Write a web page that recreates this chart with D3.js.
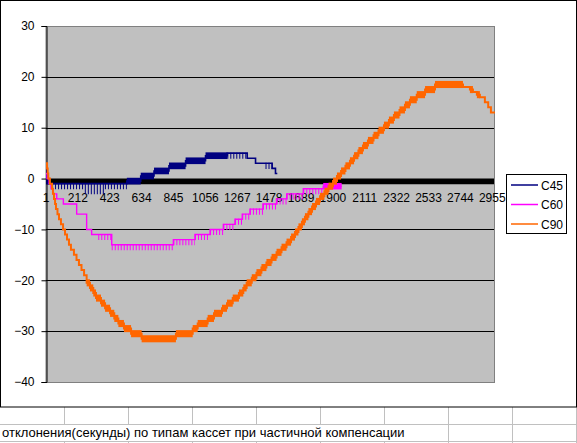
<!DOCTYPE html>
<html><head><meta charset="utf-8">
<script src="https://cdn.jsdelivr.net/npm/d3@7"></script>
<style>body{margin:0;background:#fff;}svg{display:block;font-family:Arial,"Liberation Sans",sans-serif;}</style>
</head><body><svg id="c" width="577" height="443"></svg>
<script>
// ---------- data ----------
const yTicks = [30, 20, 10, 0, -10, -20, -30, -40];
const xTicks = [1, 212, 423, 634, 845, 1056, 1267, 1478, 1689, 1900, 2111, 2322, 2533, 2744, 2955];
const nCategories = 2973;
const seriesNames = ["C45", "C60", "C90"];
const seriesColors = ["#000080", "#FF00FF", "#FF6600"];
const caption = "отклонения(секунды) по типам кассет при частичной компенсации";

// step segments: start category, low value, high value, kind (s = steady, b = dense jitter, c = sparse jitter)
const c45X  = [1, 8, 41, 258, 391, 536, 628, 716, 815, 925, 1057, 1201, 1333, 1388, 1454, 1498, 1520];
const c45Lo = [0, -1, -2, -3, -2, -1, 0, 1, 2, 3, 4, 4, 4, 3, 2, 2, 1];
const c45Hi = [2, -1, -1, -1, -1, 0, 1, 2, 3, 4, 5, 5, 4, 3, 3, 2, 1];
const c45Kind = ["b","s","c","c","c","b","b","b","b","b","b","c","s","s","c","s","s"];
const c45End = 1532;

const c60X  = [1, 8, 21, 34, 49, 72, 116, 204, 270, 303, 347, 436, 844, 987, 1087, 1175, 1252, 1300, 1351, 1437, 1527, 1594, 1704, 1836];
const c60Lo = [1, 0, -1, -2, -3, -4, -5, -7, -10, -11, -12, -14, -13, -12, -11, -10, -9, -8, -7, -6, -5, -4, -3, -2];
const c60Hi = [1, 0, -1, -2, -3, -4, -5, -7, -10, -11, -11, -13, -12, -11, -10, -9, -8, -7, -6, -5, -4, -3, -2, -1];
const c60Kind = ["s","s","s","s","s","s","s","s","s","s","c","c","c","c","c","c","c","c","c","c","c","c","c","b"];
const c60End = 1958;

const c90X = [1, 8, 12, 16, 27, 41, 47, 54, 61, 67, 77, 87, 100, 114, 127, 140, 153, 166, 186, 203, 219, 236, 253,
  270, 292, 314, 332, 365, 392, 425, 453, 480, 517, 564, 634, 861, 972, 1005, 1071, 1113, 1166, 1199, 1237, 1278,
  1307, 1329, 1363, 1394, 1427, 1460, 1494, 1527, 1560, 1593, 1623, 1649, 1672, 1695, 1715, 1738, 1762, 1788,
  1815, 1844, 1871, 1901, 1927, 1954, 1983, 2013, 2040, 2069, 2099, 2132, 2169, 2202, 2238, 2271, 2304, 2341,
  2377, 2410, 2455, 2510, 2576, 2761, 2807, 2827, 2853, 2873, 2906, 2928, 2946];
const c90Lo = [3, 2, 1, 0, -1, -2, -3, -4, -5, -6, -7, -8, -9, -10, -11, -12, -13, -14, -15, -16, -17, -18, -19,
  -21, -22, -23, -24, -25, -26, -27, -28, -29, -30, -31, -32, -31, -30, -29, -28, -27, -26, -25, -24, -23,
  -22, -21, -20, -19, -18, -17, -16, -15, -14, -13, -12, -11, -10, -9, -8, -7, -6, -5,
  -4, -3, -2, -1, 0, 1, 2, 3, 4, 5, 6, 7, 8, 9, 10, 11, 12, 13,
  14, 15, 16, 17, 18, 18, 17, 17, 16, 16, 15, 14, 13];
const c90Hi = [3, 2, 1, 0, -1, -2, -3, -4, -5, -6, -7, -8, -9, -10, -11, -12, -13, -14, -15, -16, -17, -18, -19,
  -20, -21, -22, -23, -24, -25, -26, -27, -28, -29, -30, -31, -30, -29, -28, -27, -26, -25, -24, -23, -22,
  -21, -20, -19, -18, -17, -16, -15, -14, -13, -12, -11, -10, -9, -8, -7, -6, -5, -4,
  -3, -2, -1, 0, 1, 2, 3, 4, 5, 6, 7, 8, 9, 10, 11, 12, 13, 14,
  15, 16, 17, 18, 19, 18, 18, 17, 17, 16, 15, 14, 13];
const c90Kind = c90Lo.map((v, i) => v === c90Hi[i] ? "s" : "b");
const c90End = 2973;

// ---------- layout ----------
const svg = d3.select("#c");
const plot = {l: 46, r: 495, t: 26, b: 382};
const x = d3.scaleLinear().domain([1, nCategories]).range([plot.l, plot.r]);
const y = d3.scaleLinear().domain([-40, 30]).range([plot.b, plot.t]);

// spreadsheet background grid
const grid = svg.append("g").attr("stroke", "#c0c0c0").attr("stroke-width", 1);
[424.5, 441.5].forEach(v => grid.append("line").attr("x1", 0).attr("x2", 577).attr("y1", v).attr("y2", v));
for (let k = 1; k <= 9; k++) {
  const xv = 64 * k + 0.5;
  grid.append("line").attr("x1", xv).attr("x2", xv).attr("y1", 407).attr("y2", 424);
  grid.append("line").attr("x1", xv).attr("x2", xv).attr("y1", 441).attr("y2", 443);
  if (xv > 420) grid.append("line").attr("x1", xv).attr("x2", xv).attr("y1", 424).attr("y2", 441);
}
svg.append("text").attr("x", 2).attr("y", 437).attr("font-size", 13).attr("fill", "#000").text(caption);

// chart area
svg.append("rect").attr("x", 0.5).attr("y", 0.5).attr("width", 576).attr("height", 406.5)
  .attr("fill", "#fff").attr("stroke", "#000").attr("stroke-width", 1);

// plot area
svg.append("rect").attr("x", plot.l).attr("y", plot.t + 0.5).attr("width", plot.r - plot.l - 0.5).attr("height", plot.b - plot.t)
  .attr("fill", "#c0c0c0").attr("stroke", "#808080").attr("stroke-width", 1);

// gridlines
svg.append("g").selectAll("line").data(yTicks.filter(v => v !== 30 && v !== -40 && v !== 0)).join("line")
  .attr("x1", plot.l).attr("x2", plot.r - 1).attr("y1", d => Math.round(y(d)) + 0.5).attr("y2", d => Math.round(y(d)) + 0.5)
  .attr("stroke", "#000").attr("stroke-width", 1);

// y axis
const yAxis = svg.append("g").attr("transform", `translate(${plot.l + 0.5},0)`)
  .call(d3.axisLeft(y).tickValues(yTicks).tickSize(5).tickPadding(7).tickFormat(d3.format("d")));
yAxis.select(".domain").attr("stroke", "#000");
yAxis.selectAll("line").attr("stroke", "#000");
yAxis.selectAll("text").attr("font-size", 12).attr("font-family", "Arial, 'Liberation Sans', sans-serif").attr("fill", "#000");

// heavy category axis line at zero
svg.append("line").attr("x1", plot.l).attr("x2", plot.r - 1)
  .attr("y1", y(0) + 2.9).attr("y2", y(0) + 2.9).attr("stroke", "#000").attr("stroke-width", 5.8);

// x tick labels
svg.append("g").selectAll("text").data(xTicks).join("text")
  .attr("x", d => x(d)).attr("y", 202).attr("text-anchor", "middle").attr("font-size", 12).attr("fill", "#000")
  .text(d => d);

// series
function drawSeries(X, Lo, Hi, Kind, end, color, lw) {
  const g = svg.append("g");
  const segs = X.map((c, i) => ({c0: c, c1: i < X.length - 1 ? X[i + 1] : end, lo: Lo[i], hi: Hi[i], k: Kind[i]}));
  const lvl = s => s.k === "c" ? s.hi : (s.lo + s.hi) / 2;
  const pts = segs.map(s => [s.c0, lvl(s)]);
  pts.push([end, lvl(segs[segs.length - 1])]);
  g.append("path").attr("d", d3.line().x(d => x(d[0])).y(d => y(d[1])).curve(d3.curveStepAfter)(pts))
    .attr("fill", "none").attr("stroke", color).attr("stroke-width", lw);
  g.selectAll("rect").data(segs.filter(s => s.k === "b")).join("rect")
    .attr("x", s => x(s.c0)).attr("width", s => Math.max(1, x(s.c1) - x(s.c0)))
    .attr("y", s => y(s.hi) - lw / 2).attr("height", s => y(s.lo) - y(s.hi) + lw)
    .attr("fill", color);
  g.selectAll("line.comb").data(segs.filter(s => s.k === "c")).join("line").attr("class", "comb")
    .attr("x1", s => x(s.c0)).attr("x2", s => x(s.c1))
    .attr("y1", s => (y(s.lo) + y(s.hi)) / 2).attr("y2", s => (y(s.lo) + y(s.hi)) / 2)
    .attr("stroke", color).attr("stroke-width", s => y(s.lo) - y(s.hi) + 1)
    .attr("stroke-dasharray", "1 2");
}
drawSeries(c45X, c45Lo, c45Hi, c45Kind, c45End, seriesColors[0], 1.6);
drawSeries(c60X, c60Lo, c60Hi, c60Kind, c60End, seriesColors[1], 1.4);
drawSeries(c90X, c90Lo, c90Hi, c90Kind, c90End, seriesColors[2], 2);

// legend
const lg = svg.append("g");
lg.append("rect").attr("x", 506.5).attr("y", 174.5).attr("width", 60).attr("height", 59)
  .attr("fill", "#fff").attr("stroke", "#000").attr("stroke-width", 1);
seriesNames.forEach((n, i) => {
  const yy = 185 + i * 19.5;
  lg.append("line").attr("x1", 511).attr("x2", 538).attr("y1", yy).attr("y2", yy)
    .attr("stroke", seriesColors[i]).attr("stroke-width", 1.5);
  lg.append("text").attr("x", 541).attr("y", yy + 4.5).attr("font-size", 12).attr("fill", "#000").text(n);
});
</script></body></html>
